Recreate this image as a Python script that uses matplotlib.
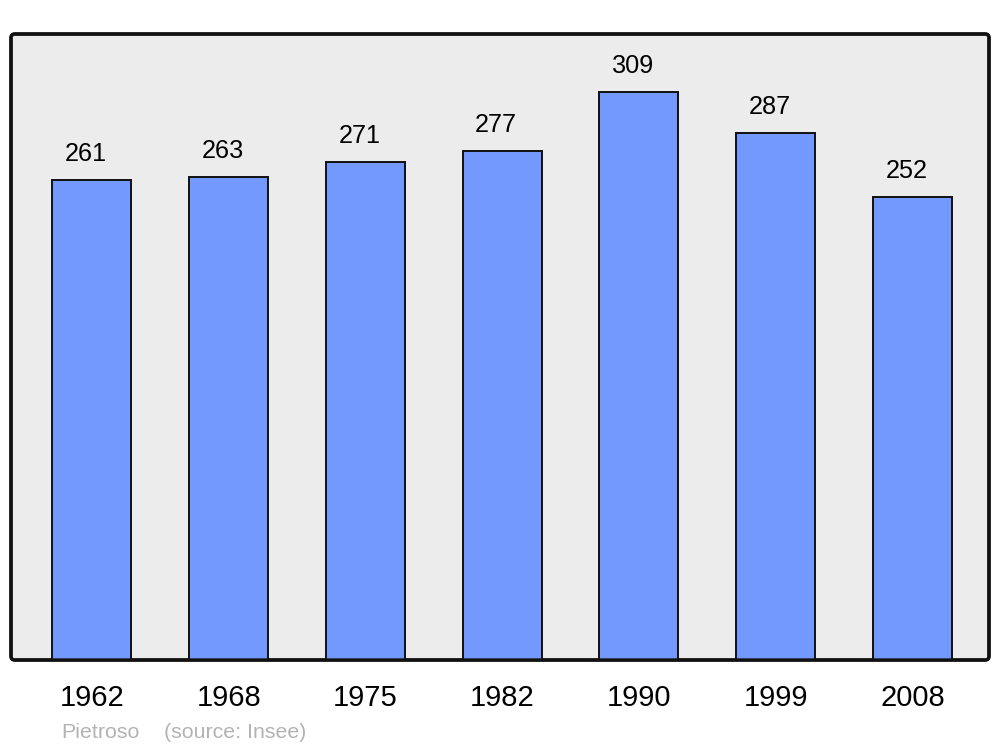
import matplotlib.pyplot as plt
from matplotlib.patches import FancyBboxPatch

plt.rcParams['font.family'] = ['Liberation Sans', 'DejaVu Sans']

years = ['1962', '1968', '1975', '1982', '1990', '1999', '2008']
population = [261, 263, 271, 277, 309, 287, 252]

fig = plt.figure(figsize=(10, 7.47), dpi=100)
ax = fig.add_axes([0.011, 87 / 747, 0.978, 626 / 747])

# fond gris arrondi à la place du cadre standard
ax.patch.set_visible(False)
for s in ax.spines.values():
    s.set_visible(False)
frame = FancyBboxPatch((0, 0), 1, 1, boxstyle='round,pad=0,rounding_size=0.004',
                       mutation_aspect=978 / 626, transform=ax.transAxes,
                       facecolor='#ececec', edgecolor='#111111', linewidth=2.4,
                       clip_on=False, zorder=0)
ax.add_patch(frame)

x = list(range(len(years)))
ax.bar(x, population, width=0.578, color='#7399ff', edgecolor='#111111',
       linewidth=1.4, zorder=2)
frame2 = FancyBboxPatch((0, 0), 1, 1, boxstyle='round,pad=0,rounding_size=0.004',
                        mutation_aspect=978 / 626, transform=ax.transAxes,
                        facecolor='none', edgecolor='#111111', linewidth=2.4,
                        clip_on=False, zorder=3)
ax.add_patch(frame2)

for xi, v in zip(x, population):
    ax.annotate(str(v), (xi, v), xytext=(-6, 19), textcoords='offset pixels',
                ha='center', va='baseline', fontsize=18.2, color='black')

ax.set_xlim(-0.592, 6.56)
ax.set_ylim(0, 340.6)
ax.set_xticks(x)
ax.set_xticklabels(years, fontsize=21)
ax.tick_params(axis='x', length=0, pad=17.5)
ax.set_yticks([])

fig.text(0.061, 1 - 738 / 747, 'Pietroso', fontsize=15.4, color='#b3b3b3', va='baseline')
fig.text(0.164, 1 - 738 / 747, '(source: Insee)', fontsize=15.4, color='#b3b3b3', va='baseline')

fig.savefig('out.png', dpi=100)
